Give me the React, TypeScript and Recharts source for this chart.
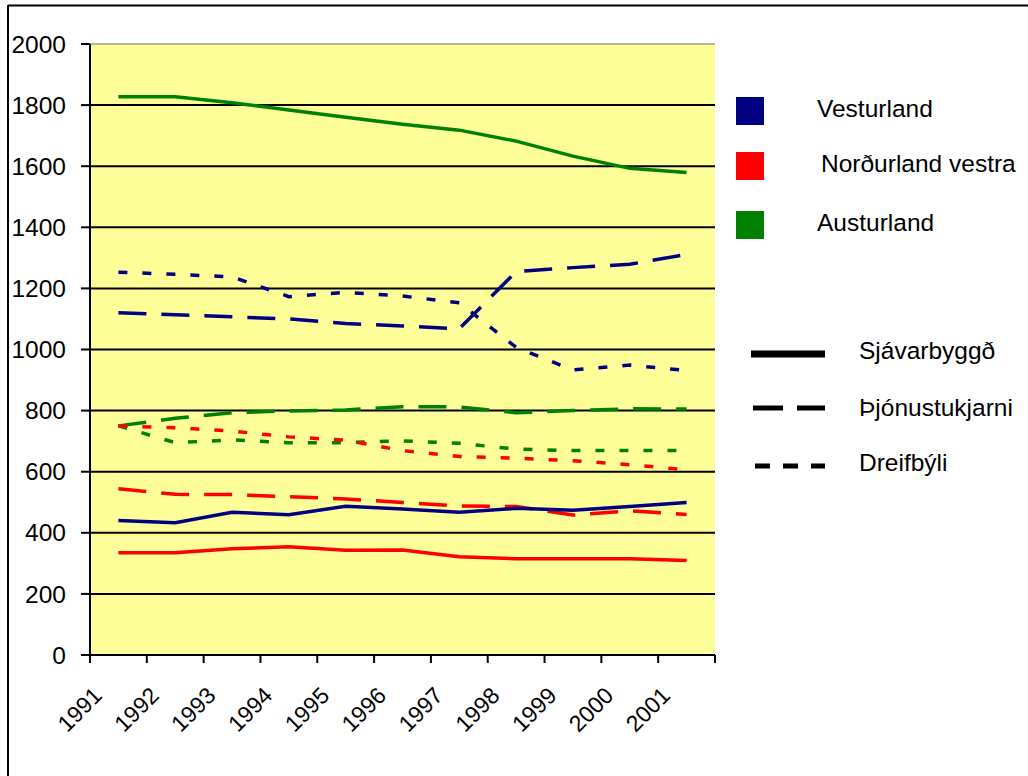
import { LineChart, Line, XAxis, YAxis, CartesianGrid, ReferenceLine } from 'recharts'

const years = ['1991', '1992', '1993', '1994', '1995', '1996', '1997', '1998', '1999', '2000', '2001']

// Vesturland
const vestSjav = [440, 433, 467, 459, 487, 478, 467, 480, 474, 486, 499]
const vestThjon = [1120, 1114, 1107, 1100, 1085, 1077, 1068, 1255, 1268, 1279, 1311]
const vestDreif = [1253, 1246, 1238, 1173, 1187, 1175, 1153, 1007, 933, 949, 931]

// Norðurland vestra
const nordSjav = [335, 335, 348, 354, 343, 344, 322, 315, 315, 315, 309]
const nordThjon = [544, 526, 525, 518, 511, 499, 488, 486, 458, 472, 460]
const nordDreif = [750, 744, 733, 714, 703, 669, 650, 644, 636, 623, 606]

// Austurland
const austSjav = [1827, 1827, 1808, 1784, 1760, 1737, 1718, 1682, 1633, 1593, 1579]
const austThjon = [750, 775, 793, 799, 802, 813, 812, 793, 800, 806, 805]
const austDreif = [750, 695, 704, 695, 695, 701, 693, 674, 669, 669, 669]

const yTicks = [0, 200, 400, 600, 800, 1000, 1200, 1400, 1600, 1800, 2000]
const gridValues = [200, 400, 600, 800, 1000, 1200, 1400, 1600, 1800]

const regions = [
  { name: 'Vesturland', color: '#000080' },
  { name: 'Norðurland vestra', color: '#FF0000' },
  { name: 'Austurland', color: '#008000' },
]
const types = [
  { name: 'Sjávarbyggð', dash: undefined },
  { name: 'Þjónustukjarni', dash: '28 15' },
  { name: 'Dreifbýli', dash: '9 15' },
]

const data = years.map((year, i) => ({
  year,
  vestSjav: vestSjav[i],
  vestThjon: vestThjon[i],
  vestDreif: vestDreif[i],
  nordSjav: nordSjav[i],
  nordThjon: nordThjon[i],
  nordDreif: nordDreif[i],
  austSjav: austSjav[i],
  austThjon: austThjon[i],
  austDreif: austDreif[i],
}))

const series = [
  { key: 'austSjav', color: regions[2].color, dash: types[0].dash },
  { key: 'vestDreif', color: regions[0].color, dash: types[2].dash },
  { key: 'vestThjon', color: regions[0].color, dash: types[1].dash },
  { key: 'austThjon', color: regions[2].color, dash: types[1].dash },
  { key: 'austDreif', color: regions[2].color, dash: types[2].dash },
  { key: 'nordDreif', color: regions[1].color, dash: types[2].dash },
  { key: 'nordThjon', color: regions[1].color, dash: types[1].dash },
  { key: 'vestSjav', color: regions[0].color, dash: types[0].dash },
  { key: 'nordSjav', color: regions[1].color, dash: types[0].dash },
]

const FONT = 'Arial, "Liberation Sans", sans-serif'
const W = 1028
const H = 776
const PLOT_LEFT = 90
const PLOT_RIGHT = 715
const PLOT_TOP = 44
const PLOT_BOTTOM = 655
const BAND = (PLOT_RIGHT - PLOT_LEFT) / years.length

const YearTick = (props: any) => {
  const { x, y, payload, index } = props
  const left = x - BAND / 2
  const tx = x - 15
  const ty = y + 42
  return (
    <g>
      <line x1={left} y1={y} x2={left} y2={y + 8} stroke="#000" strokeWidth={2} />
      {index === years.length - 1 && (
        <line x1={x + BAND / 2} y1={y} x2={x + BAND / 2} y2={y + 8} stroke="#000" strokeWidth={2} />
      )}
      <text
        x={tx}
        y={ty}
        textAnchor="end"
        transform={`rotate(-45, ${tx}, ${ty})`}
        fontSize={23}
        fontFamily={FONT}
        fill="#000"
      >
        {payload.value}
      </text>
    </g>
  )
}

export default function App() {
  return (
    <div style={{ position: 'absolute', left: 0, top: 0, width: W, height: H, background: '#fff' }}>
      <LineChart
        width={W}
        height={H}
        data={data}
        margin={{ top: PLOT_TOP, right: W - PLOT_RIGHT, bottom: 0, left: 0 }}
      >
        <CartesianGrid
          vertical={false}
          horizontalValues={gridValues}
          stroke="#000"
          strokeWidth={2}
          fill="#FFFF99"
          fillOpacity={1}
        />
        <ReferenceLine y={2000} stroke="#b8b8a0" strokeWidth={2} />
        <XAxis
          dataKey="year"
          scale="band"
          axisLine={{ stroke: '#000', strokeWidth: 2 }}
          tickLine={false}
          tickSize={0}
          tickMargin={0}
          interval={0}
          height={H - PLOT_BOTTOM}
          tick={<YearTick />}
        />
        <YAxis
          domain={[0, 2000]}
          ticks={yTicks}
          interval={0}
          width={PLOT_LEFT}
          axisLine={{ stroke: '#000', strokeWidth: 2 }}
          tickLine={{ stroke: '#000', strokeWidth: 2 }}
          tickSize={9}
          tickMargin={15}
          tick={{ fontSize: 24.5, fontFamily: FONT, fill: '#000' }}
        />
        {series.map((s) => (
          <Line
            key={s.key}
            dataKey={s.key}
            stroke={s.color}
            strokeWidth={3.5}
            strokeDasharray={s.dash}
            dot={false}
            activeDot={false}
            isAnimationActive={false}
            type="linear"
          />
        ))}
      </LineChart>
      <svg
        width={W}
        height={H}
        style={{ position: 'absolute', left: 0, top: 0, pointerEvents: 'none' }}
        fontFamily={FONT}
      >
        <line x1={8} y1={5.5} x2={W} y2={5.5} stroke="#000" strokeWidth={2} />
        <line x1={8} y1={5} x2={8} y2={H} stroke="#000" strokeWidth={2} />
        {regions.map((r, i) => {
          const top = [97, 152, 211][i]
          const tx = [817, 821, 817][i]
          return (
            <g key={r.name}>
              <rect x={736} y={top} width={28} height={28} fill={r.color} />
              <text x={tx} y={top + 20} fontSize={24.5} fill="#000">
                {r.name}
              </text>
            </g>
          )
        })}
        {types.map((t, i) => {
          const ly = [354, 408, 466][i]
          return (
            <g key={t.name}>
              <line
                x1={[751, 753, 755][i]}
                y1={ly}
                x2={825}
                y2={ly}
                stroke="#000"
                strokeWidth={[7, 5, 5][i]}
                strokeDasharray={[undefined, '30 14', '15 13'][i]}
              />
              <text x={859} y={ly + 5 + (i === 1 ? 3 : 0)} fontSize={24.5} fill="#000">
                {t.name}
              </text>
            </g>
          )
        })}
      </svg>
    </div>
  )
}
